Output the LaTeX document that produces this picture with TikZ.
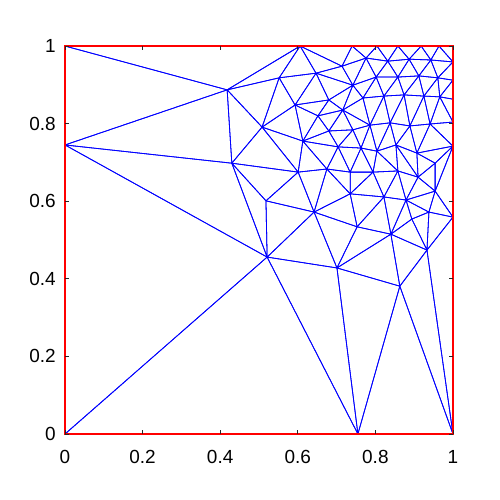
\documentclass[tikz,border=0pt]{standalone}
\usepackage{fontspec}
\setmainfont{Liberation Sans}
\begin{document}
\begin{tikzpicture}[x=7.76cm,y=7.76cm,
  meshline/.style={blue,line width=0.45pt,line join=round},
  edgeline/.style={red,line width=1.1pt},
  tickline/.style={black!85,line width=0.5pt},
  ticklabel/.style={font=\fontsize{10.8}{12}\selectfont,inner sep=0pt}]
  \useasboundingbox (-0.1675,-0.1701) rectangle (1.1211,1.1186);
  % mesh vertices
  \foreach \n/\x/\y in {n1/0/1,n2/0/0.745,n3/0/0,n4/0.755/0,n5/1/0,n6/1/1,
    c/0.418/0.887,d/0.606/1,e/0.430/0.698,f/0.518/0.601,g/0.521/0.456,h/0.642/0.572,
    i/0.701/0.428,k/0.863/0.381,m/0.933/0.474,l/1/0.559,
    p1/0.552/0.918,p2/0.647/0.930,p3/0.508/0.791,p4/0.593/0.848,p5/0.680/0.861,
    p6/0.652/0.820,p7/0.613/0.755,p8/0.680/0.781,p9/0.601/0.675,p10/0.675/0.683,
    p11/0.704/0.740,p12/0.763/0.737,p13/0.804/0.729,p14/0.853/0.745,p15/0.907/0.724,
    p16/1/0.742,p17/0.954/0.698,p18/0.735/0.675,p19/0.794/0.675,p20/0.858/0.678,
    p21/0.910/0.662,p22/0.735/0.619,p23/0.822/0.611,p24/0.879/0.603,p25/0.954/0.626,
    p26/0.938/0.572,p27/0.753/0.534,p28/0.840/0.515,p29/0.894/0.554,
    t1/0.740/1,t2/0.804/1,t3/0.858/1,t4/0.918/1,t5/0.964/1,
    a1/0.714/0.948,a2/0.776/0.969,a3/0.832/0.961,a4/0.887/0.966,a5/0.943/0.964,r1/1/0.959,
    b1/0.742/0.899,b2/0.802/0.920,b3/0.858/0.920,b4/0.912/0.923,b5/0.961/0.918,r2/1/0.912,
    c1/0.716/0.835,c2/0.768/0.866,c3/0.822/0.871,c4/0.874/0.874,c5/0.925/0.871,
    c6/0.966/0.869,r3/1/0.863,
    d1/0.742/0.784,d2/0.786/0.796,d3/0.838/0.802,d4/0.889/0.794,d5/0.941/0.799,r4/1/0.804}
    \coordinate (\n) at (\x,\y);
  % triangles
  \foreach \pa/\pb/\pc in {n1/n2/c,n2/c/e,n2/e/g,n2/g/n3,n3/g/n4,g/n4/i,n4/i/k,n4/k/n5,
    k/n5/m,m/n5/l,e/f/g,f/g/h,g/h/i,h/i/p27,i/p27/p28,i/p28/k,k/p28/m,m/p28/p29,
    m/p29/p26,m/p26/l,n1/c/d,c/d/p1,c/p1/p3,c/p3/e,e/p3/p9,e/p9/f,f/p9/h,h/p9/p10,
    h/p10/p22,h/p22/p27,p10/p18/p22,p27/p22/p23,p27/p23/p28,p28/p23/p24,p28/p24/p29,
    p29/p24/p26,p26/p24/p25,p26/p25/l,l/p25/p16,p25/p17/p16,p25/p24/p21,p25/p21/p17,
    p24/p23/p20,p24/p20/p21,p23/p22/p19,p23/p19/p20,p22/p18/p19,p3/p7/p9,p9/p7/p10,
    p1/d/p2,p1/p2/p4,p1/p4/p3,p3/p4/p7,p4/p6/p7,p4/p2/p5,p4/p5/p6,p7/p6/p8,p7/p8/p11,
    p7/p11/p10,p10/p11/p18,p11/p12/p18,p18/p12/p19,p19/p12/p13,p19/p13/p20,p20/p13/p14,
    p20/p14/p21,p21/p14/p15,p21/p15/p17,p17/p15/p16,
    d/p2/a1,d/a1/t1,t1/a1/a2,t1/a2/t2,t2/a2/a3,t2/a3/t3,t3/a3/a4,t3/a4/t4,t4/a4/a5,
    t4/a5/t5,t5/a5/r1,t5/r1/n6,
    p2/p5/b1,p2/b1/a1,a1/b1/a2,a2/b1/b2,a2/b2/a3,a3/b2/b3,a3/b3/a4,a4/b3/b4,a4/b4/a5,
    a5/b4/b5,a5/b5/r1,r1/b5/r2,
    p5/p6/c1,p5/c1/b1,b1/c1/c2,b1/c2/b2,b2/c2/c3,b2/c3/b3,b3/c3/c4,b3/c4/b4,b4/c4/c5,
    b4/c5/b5,b5/c5/c6,b5/c6/r2,r2/c6/r3,
    p6/p8/c1,c1/p8/d1,c1/d1/d2,c1/d2/c2,c2/d2/c3,c3/d2/d3,c3/d3/c4,c4/d3/d4,c4/d4/c5,
    c5/d4/d5,c5/d5/c6,c6/d5/r4,c6/r4/r3,
    p8/p11/d1,d1/p11/p12,d1/p12/d2,d2/p12/p13,d2/p13/d3,d3/p13/p14,d3/p14/d4,d4/p14/p15,
    d4/p15/d5,d5/p15/p16,d5/p16/r4}
    \draw[meshline] (\pa) -- (\pb) -- (\pc) -- cycle;
  % boundary of the square
  \draw[edgeline] (n3) -- (n4) -- (n5) -- (l) -- (p16) -- (r4) -- (r3) -- (r2) -- (r1)
    -- (n6) -- (t5) -- (t4) -- (t3) -- (t2) -- (t1) -- (d) -- (n1) -- (n2) -- cycle;
  \foreach \t [count=\j] in {0,0.2,0.4,0.6,0.8,1} {
    \draw[tickline] (\t,0) -- (\t,0.011);
    \draw[tickline] (\t,1) -- (\t,0.989);
    \draw[tickline] (0,\t) -- (0.011,\t);
    \draw[tickline] (1,\t) -- (0.989,\t);
    \node[ticklabel] (xlab\j) at (\t,-0.058) {\t};
    \node[ticklabel,anchor=east] (ylab\j) at (-0.023,\t) {\t};
  }
\end{tikzpicture}
\end{document}
